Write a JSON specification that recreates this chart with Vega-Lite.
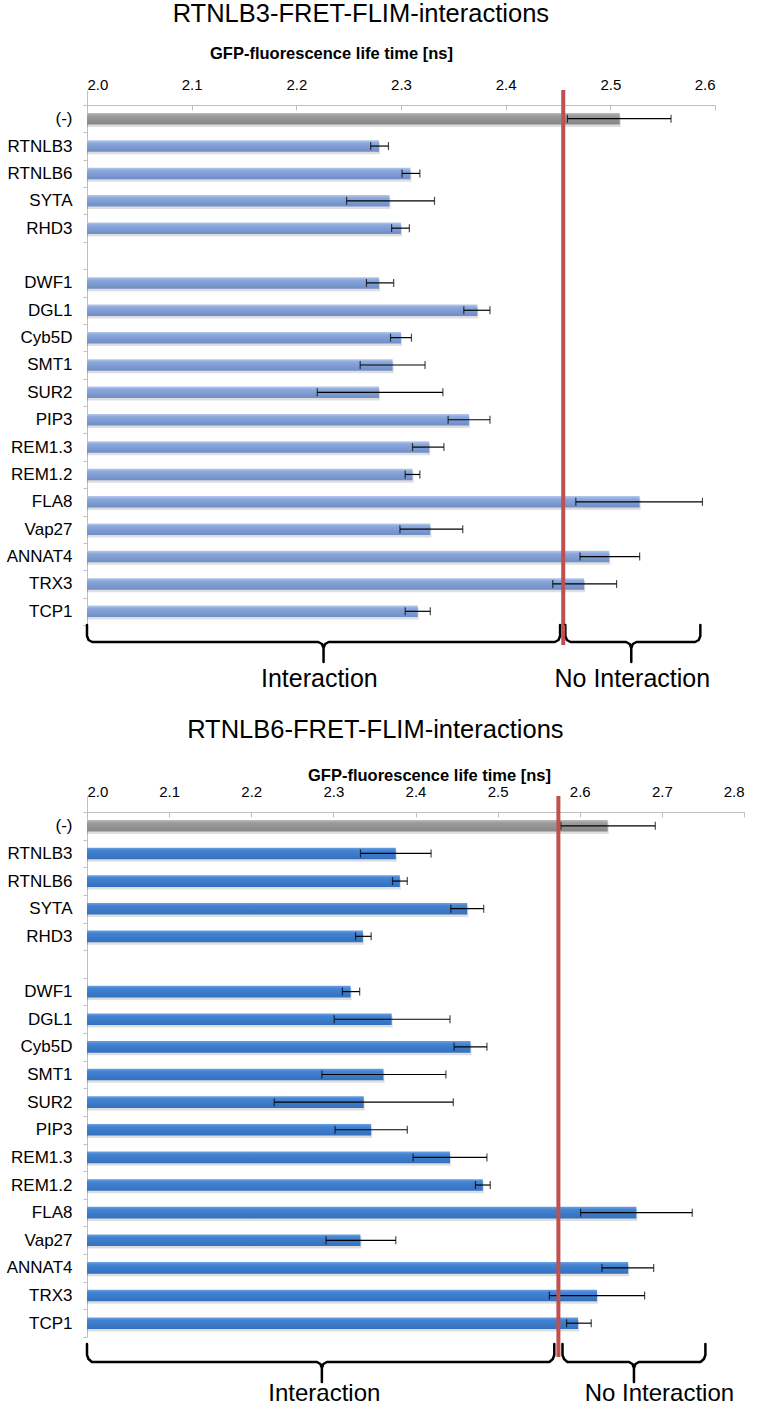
{
  "$schema": "https://vega.github.io/schema/vega-lite/v6.json",
  "padding": {"left": 6, "top": 1, "right": 0, "bottom": 0},
  "background": "white",
  "bounds": "flush",
  "spacing": 0,
  "config": {"font": "Liberation Sans", "view": {"stroke": null}},
  "datasets": {
    "p1": [
      {"cat": "(-)", "v": 2.509, "lo": 2.459, "hi": 2.558},
      {"cat": "RTNLB3", "v": 2.279, "lo": 2.271, "hi": 2.288},
      {"cat": "RTNLB6", "v": 2.309, "lo": 2.301, "hi": 2.318},
      {"cat": "SYTA", "v": 2.289, "lo": 2.248, "hi": 2.332},
      {"cat": "RHD3", "v": 2.300, "lo": 2.291, "hi": 2.308},
      {"cat": "DWF1", "v": 2.279, "lo": 2.267, "hi": 2.293},
      {"cat": "DGL1", "v": 2.373, "lo": 2.360, "hi": 2.385},
      {"cat": "Cyb5D", "v": 2.300, "lo": 2.290, "hi": 2.310},
      {"cat": "SMT1", "v": 2.292, "lo": 2.261, "hi": 2.323},
      {"cat": "SUR2", "v": 2.279, "lo": 2.220, "hi": 2.340},
      {"cat": "PIP3", "v": 2.365, "lo": 2.345, "hi": 2.385},
      {"cat": "REM1.3", "v": 2.327, "lo": 2.311, "hi": 2.341},
      {"cat": "REM1.2", "v": 2.311, "lo": 2.304, "hi": 2.318},
      {"cat": "FLA8", "v": 2.528, "lo": 2.467, "hi": 2.588},
      {"cat": "Vap27", "v": 2.328, "lo": 2.299, "hi": 2.359},
      {"cat": "ANNAT4", "v": 2.499, "lo": 2.471, "hi": 2.528},
      {"cat": "TRX3", "v": 2.475, "lo": 2.445, "hi": 2.506},
      {"cat": "TCP1", "v": 2.316, "lo": 2.304, "hi": 2.328}
    ],
    "p2": [
      {"cat": "(-)", "v": 2.634, "lo": 2.577, "hi": 2.692},
      {"cat": "RTNLB3", "v": 2.376, "lo": 2.333, "hi": 2.419},
      {"cat": "RTNLB6", "v": 2.381, "lo": 2.372, "hi": 2.390},
      {"cat": "SYTA", "v": 2.463, "lo": 2.443, "hi": 2.483},
      {"cat": "RHD3", "v": 2.336, "lo": 2.327, "hi": 2.346},
      {"cat": "DWF1", "v": 2.321, "lo": 2.311, "hi": 2.332},
      {"cat": "DGL1", "v": 2.371, "lo": 2.301, "hi": 2.442},
      {"cat": "Cyb5D", "v": 2.467, "lo": 2.447, "hi": 2.487},
      {"cat": "SMT1", "v": 2.361, "lo": 2.286, "hi": 2.437},
      {"cat": "SUR2", "v": 2.337, "lo": 2.228, "hi": 2.446},
      {"cat": "PIP3", "v": 2.346, "lo": 2.302, "hi": 2.390},
      {"cat": "REM1.3", "v": 2.442, "lo": 2.397, "hi": 2.487},
      {"cat": "REM1.2", "v": 2.482, "lo": 2.473, "hi": 2.491},
      {"cat": "FLA8", "v": 2.669, "lo": 2.601, "hi": 2.737},
      {"cat": "Vap27", "v": 2.333, "lo": 2.291, "hi": 2.376},
      {"cat": "ANNAT4", "v": 2.659, "lo": 2.627, "hi": 2.690},
      {"cat": "TRX3", "v": 2.621, "lo": 2.563, "hi": 2.679},
      {"cat": "TCP1", "v": 2.598, "lo": 2.584, "hi": 2.614}
    ],
    "b1": [
      {"g": "L", "i": 0, "x": 2.0, "y": 0}, {"g": "L", "i": 1, "x": 2.0, "y": 11}, {"g": "L", "i": 2, "x": 2.0015, "y": 15}, {"g": "L", "i": 3, "x": 2.005, "y": 17}, {"g": "L", "i": 4, "x": 2.221, "y": 17}, {"g": "L", "i": 5, "x": 2.2245, "y": 19}, {"g": "L", "i": 6, "x": 2.226, "y": 23}, {"g": "L", "i": 7, "x": 2.226, "y": 37}, {"g": "L", "i": 8, "x": 2.226, "y": 23}, {"g": "L", "i": 9, "x": 2.2275, "y": 19}, {"g": "L", "i": 10, "x": 2.231, "y": 17}, {"g": "L", "i": 11, "x": 2.447, "y": 17}, {"g": "L", "i": 12, "x": 2.4505, "y": 15}, {"g": "L", "i": 13, "x": 2.452, "y": 11}, {"g": "L", "i": 14, "x": 2.452, "y": 0},
      {"g": "R", "i": 0, "x": 2.457, "y": 0}, {"g": "R", "i": 1, "x": 2.457, "y": 11}, {"g": "R", "i": 2, "x": 2.4585, "y": 15}, {"g": "R", "i": 3, "x": 2.462, "y": 17}, {"g": "R", "i": 4, "x": 2.515, "y": 17}, {"g": "R", "i": 5, "x": 2.5185, "y": 19}, {"g": "R", "i": 6, "x": 2.52, "y": 23}, {"g": "R", "i": 7, "x": 2.52, "y": 37}, {"g": "R", "i": 8, "x": 2.52, "y": 23}, {"g": "R", "i": 9, "x": 2.5215, "y": 19}, {"g": "R", "i": 10, "x": 2.525, "y": 17}, {"g": "R", "i": 11, "x": 2.581, "y": 17}, {"g": "R", "i": 12, "x": 2.5845, "y": 15}, {"g": "R", "i": 13, "x": 2.586, "y": 11}, {"g": "R", "i": 14, "x": 2.586, "y": 0}
    ],
    "b2": [
      {"g": "L", "i": 0, "x": 2.0, "y": 7}, {"g": "L", "i": 1, "x": 2.0, "y": 18}, {"g": "L", "i": 2, "x": 2.0018, "y": 22}, {"g": "L", "i": 3, "x": 2.006, "y": 25}, {"g": "L", "i": 4, "x": 2.28, "y": 25}, {"g": "L", "i": 5, "x": 2.2842, "y": 27}, {"g": "L", "i": 6, "x": 2.286, "y": 31}, {"g": "L", "i": 7, "x": 2.286, "y": 45}, {"g": "L", "i": 8, "x": 2.286, "y": 31}, {"g": "L", "i": 9, "x": 2.2878, "y": 27}, {"g": "L", "i": 10, "x": 2.292, "y": 25}, {"g": "L", "i": 11, "x": 2.563, "y": 25}, {"g": "L", "i": 12, "x": 2.5672, "y": 22}, {"g": "L", "i": 13, "x": 2.569, "y": 18}, {"g": "L", "i": 14, "x": 2.569, "y": 7},
      {"g": "R", "i": 0, "x": 2.579, "y": 7}, {"g": "R", "i": 1, "x": 2.579, "y": 18}, {"g": "R", "i": 2, "x": 2.5808, "y": 22}, {"g": "R", "i": 3, "x": 2.585, "y": 25}, {"g": "R", "i": 4, "x": 2.66, "y": 25}, {"g": "R", "i": 5, "x": 2.6642, "y": 27}, {"g": "R", "i": 6, "x": 2.666, "y": 31}, {"g": "R", "i": 7, "x": 2.666, "y": 45}, {"g": "R", "i": 8, "x": 2.666, "y": 31}, {"g": "R", "i": 9, "x": 2.6678, "y": 27}, {"g": "R", "i": 10, "x": 2.672, "y": 25}, {"g": "R", "i": 11, "x": 2.747, "y": 25}, {"g": "R", "i": 12, "x": 2.7512, "y": 22}, {"g": "R", "i": 13, "x": 2.753, "y": 18}, {"g": "R", "i": 14, "x": 2.753, "y": 7}
    ]
  },
  "vconcat": [
    {
      "width": 628,
      "height": 535,
      "title": {"text": "RTNLB3-FRET-FLIM-interactions", "fontSize": 25.5, "fontWeight": "normal", "anchor": "middle", "frame": "bounds", "offset": 18, "color": "#000000"},
      "layer": [
        {
          "data": {"name": "p1"},
          "mark": {"type": "bar", "height": {"band": 0.42}, "color": "#000000", "opacity": 0.13, "yOffset": 2.5, "xOffset": 1},
          "encoding": {
            "y": {"field": "cat", "type": "nominal", "sort": null, "title": null,
              "scale": {"domain": ["(-)", "RTNLB3", "RTNLB6", "SYTA", "RHD3", " ", "DWF1", "DGL1", "Cyb5D", "SMT1", "SUR2", "PIP3", "REM1.3", "REM1.2", "FLA8", "Vap27", "ANNAT4", "TRX3", "TCP1"], "paddingInner": 0, "paddingOuter": 0.274, "align": 1},
              "axis": {"tickBand": "extent", "domainColor": "#bfbfbf", "tickColor": "#bfbfbf", "tickSize": 4, "labelPadding": 11, "labelFontSize": 17, "labelColor": "#000000", "labelLimit": 200}},
            "x": {"field": "v", "type": "quantitative", "scale": {"domain": [2.0, 2.6], "zero": false, "nice": false},
              "axis": {"orient": "top", "offset": -15, "values": [2.0, 2.1, 2.2, 2.3, 2.4, 2.5, 2.6], "format": ".1f", "grid": false, "tickSize": -5, "labelPadding": 18, "labelFontSize": 15, "labelColor": "#000000", "domainColor": "#bfbfbf", "tickColor": "#bfbfbf", "title": "GFP-fluorescence life time [ns]", "titleFontSize": 16.5, "titleFontWeight": "bold", "titleColor": "#000000", "titleX": 244, "titleAlign": "center", "titlePadding": 16}},
            "x2": {"datum": 2.0}
          }
        },
        {
          "data": {"name": "p1"},
          "transform": [{"filter": "datum.cat === '(-)'"}],
          "mark": {"type": "bar", "height": {"band": 0.42}, "color": {"gradient": "linear", "x1": 0, "y1": 0, "x2": 0, "y2": 1, "stops": [{"offset": 0, "color": "#bdbdbd"}, {"offset": 0.25, "color": "#9c9c9c"}, {"offset": 1, "color": "#868686"}]}},
          "encoding": {
            "y": {"field": "cat", "type": "nominal", "sort": null},
            "x": {"field": "v", "type": "quantitative"},
            "x2": {"datum": 2.0}
          }
        },
        {
          "data": {"name": "p1"},
          "transform": [{"filter": "datum.cat !== '(-)'"}],
          "mark": {"type": "bar", "height": {"band": 0.42}, "color": {"gradient": "linear", "x1": 0, "y1": 0, "x2": 0, "y2": 1, "stops": [{"offset": 0, "color": "#b6c9ea"}, {"offset": 0.25, "color": "#8aa8db"}, {"offset": 1, "color": "#6f8dc6"}]}},
          "encoding": {
            "y": {"field": "cat", "type": "nominal", "sort": null},
            "x": {"field": "v", "type": "quantitative"},
            "x2": {"datum": 2.0}
          }
        },
        {
          "data": {"name": "p1"},
          "mark": {"type": "rule", "color": "#000000", "strokeWidth": 1.2},
          "encoding": {
            "y": {"field": "cat", "type": "nominal", "sort": null},
            "x": {"field": "lo", "type": "quantitative"},
            "x2": {"field": "hi"}
          }
        },
        {
          "data": {"name": "p1"},
          "mark": {"type": "tick", "color": "#000000", "size": 8, "thickness": 1.2, "orient": "vertical"},
          "encoding": {
            "y": {"field": "cat", "type": "nominal", "sort": null},
            "x": {"field": "lo", "type": "quantitative"}
          }
        },
        {
          "data": {"name": "p1"},
          "mark": {"type": "tick", "color": "#000000", "size": 8, "thickness": 1.2, "orient": "vertical"},
          "encoding": {
            "y": {"field": "cat", "type": "nominal", "sort": null},
            "x": {"field": "hi", "type": "quantitative"}
          }
        },
        {
          "data": {"values": [{"t": 2.455}]},
          "mark": {"type": "rule", "color": "#c0504d", "strokeWidth": 4},
          "encoding": {"x": {"field": "t", "type": "quantitative"}}
        }
      ]
    },
    {
      "width": 628,
      "height": 171,
      "layer": [
        {
          "data": {"name": "b1"},
          "mark": {"type": "line", "color": "#000000", "strokeWidth": 2.5, "strokeJoin": "round", "strokeCap": "round"},
          "encoding": {
            "x": {"field": "x", "type": "quantitative", "scale": {"domain": [2.0, 2.6], "zero": false, "nice": false}, "axis": null},
            "y": {"field": "y", "type": "quantitative", "scale": {"domain": [0, 171], "reverse": true, "zero": false, "nice": false}, "axis": null},
            "detail": {"field": "g", "type": "nominal"},
            "order": {"field": "i", "type": "quantitative"}
          }
        },
        {
          "data": {"values": [{"t": 2.455, "y1": 0, "y2": 20}]},
          "mark": {"type": "rule", "color": "#c0504d", "strokeWidth": 4},
          "encoding": {
            "x": {"field": "t", "type": "quantitative"},
            "y": {"field": "y1", "type": "quantitative"},
            "y2": {"field": "y2"}
          }
        },
        {
          "data": {"values": [{"label": "Interaction", "x": 2.222, "y": 54}, {"label": "No Interaction", "x": 2.521, "y": 54}]},
          "mark": {"type": "text", "fontSize": 25, "align": "center", "baseline": "middle", "color": "#000000"},
          "encoding": {
            "x": {"field": "x", "type": "quantitative"},
            "y": {"field": "y", "type": "quantitative"},
            "text": {"field": "label"}
          }
        }
      ]
    },
    {
      "width": 657,
      "height": 541,
      "title": {"text": "RTNLB6-FRET-FLIM-interactions", "fontSize": 25.5, "fontWeight": "normal", "anchor": "middle", "frame": "bounds", "offset": 24, "color": "#000000"},
      "layer": [
        {
          "data": {"name": "p2"},
          "mark": {"type": "bar", "height": {"band": 0.42}, "color": "#000000", "opacity": 0.13, "yOffset": 2.5, "xOffset": 1},
          "encoding": {
            "y": {"field": "cat", "type": "nominal", "sort": null, "title": null,
              "scale": {"domain": ["(-)", "RTNLB3", "RTNLB6", "SYTA", "RHD3", " ", "DWF1", "DGL1", "Cyb5D", "SMT1", "SUR2", "PIP3", "REM1.3", "REM1.2", "FLA8", "Vap27", "ANNAT4", "TRX3", "TCP1"], "paddingInner": 0, "paddingOuter": 0.2895, "align": 1},
              "axis": {"tickBand": "extent", "domainColor": "#bfbfbf", "tickColor": "#bfbfbf", "tickSize": 4, "labelPadding": 11, "labelFontSize": 17, "labelColor": "#000000", "labelLimit": 200}},
            "x": {"field": "v", "type": "quantitative", "scale": {"domain": [2.0, 2.8], "zero": false, "nice": false},
              "axis": {"orient": "top", "offset": -16, "values": [2.0, 2.1, 2.2, 2.3, 2.4, 2.5, 2.6, 2.7, 2.8], "format": ".1f", "grid": false, "tickSize": -5, "labelPadding": 18, "labelFontSize": 15, "labelColor": "#000000", "domainColor": "#bfbfbf", "tickColor": "#bfbfbf", "title": "GFP-fluorescence life time [ns]", "titleFontSize": 16.5, "titleFontWeight": "bold", "titleColor": "#000000", "titleX": 342, "titleAlign": "center", "titlePadding": 1}},
            "x2": {"datum": 2.0}
          }
        },
        {
          "data": {"name": "p2"},
          "transform": [{"filter": "datum.cat === '(-)'"}],
          "mark": {"type": "bar", "height": {"band": 0.42}, "color": {"gradient": "linear", "x1": 0, "y1": 0, "x2": 0, "y2": 1, "stops": [{"offset": 0, "color": "#bdbdbd"}, {"offset": 0.25, "color": "#9c9c9c"}, {"offset": 1, "color": "#868686"}]}},
          "encoding": {
            "y": {"field": "cat", "type": "nominal", "sort": null},
            "x": {"field": "v", "type": "quantitative"},
            "x2": {"datum": 2.0}
          }
        },
        {
          "data": {"name": "p2"},
          "transform": [{"filter": "datum.cat !== '(-)'"}],
          "mark": {"type": "bar", "height": {"band": 0.42}, "color": {"gradient": "linear", "x1": 0, "y1": 0, "x2": 0, "y2": 1, "stops": [{"offset": 0, "color": "#6a9fe2"}, {"offset": 0.25, "color": "#4283d2"}, {"offset": 1, "color": "#3470be"}]}},
          "encoding": {
            "y": {"field": "cat", "type": "nominal", "sort": null},
            "x": {"field": "v", "type": "quantitative"},
            "x2": {"datum": 2.0}
          }
        },
        {
          "data": {"name": "p2"},
          "mark": {"type": "rule", "color": "#000000", "strokeWidth": 1.2},
          "encoding": {
            "y": {"field": "cat", "type": "nominal", "sort": null},
            "x": {"field": "lo", "type": "quantitative"},
            "x2": {"field": "hi"}
          }
        },
        {
          "data": {"name": "p2"},
          "mark": {"type": "tick", "color": "#000000", "size": 8, "thickness": 1.2, "orient": "vertical"},
          "encoding": {
            "y": {"field": "cat", "type": "nominal", "sort": null},
            "x": {"field": "lo", "type": "quantitative"}
          }
        },
        {
          "data": {"name": "p2"},
          "mark": {"type": "tick", "color": "#000000", "size": 8, "thickness": 1.2, "orient": "vertical"},
          "encoding": {
            "y": {"field": "cat", "type": "nominal", "sort": null},
            "x": {"field": "hi", "type": "quantitative"}
          }
        },
        {
          "data": {"values": [{"t": 2.574}]},
          "mark": {"type": "rule", "color": "#c0504d", "strokeWidth": 4},
          "encoding": {"x": {"field": "t", "type": "quantitative"}}
        }
      ]
    },
    {
      "width": 657,
      "height": 70,
      "layer": [
        {
          "data": {"name": "b2"},
          "mark": {"type": "line", "color": "#000000", "strokeWidth": 2.5, "strokeJoin": "round", "strokeCap": "round"},
          "encoding": {
            "x": {"field": "x", "type": "quantitative", "scale": {"domain": [2.0, 2.8], "zero": false, "nice": false}, "axis": null},
            "y": {"field": "y", "type": "quantitative", "scale": {"domain": [0, 70], "reverse": true, "zero": false, "nice": false}, "axis": null},
            "detail": {"field": "g", "type": "nominal"},
            "order": {"field": "i", "type": "quantitative"}
          }
        },
        {
          "data": {"values": [{"t": 2.574, "y1": 0, "y2": 20}]},
          "mark": {"type": "rule", "color": "#c0504d", "strokeWidth": 4},
          "encoding": {
            "x": {"field": "t", "type": "quantitative"},
            "y": {"field": "y1", "type": "quantitative"},
            "y2": {"field": "y2"}
          }
        },
        {
          "data": {"values": [{"label": "Interaction", "x": 2.289, "y": 57}, {"label": "No Interaction", "x": 2.697, "y": 57}]},
          "mark": {"type": "text", "fontSize": 24, "align": "center", "baseline": "middle", "color": "#000000"},
          "encoding": {
            "x": {"field": "x", "type": "quantitative"},
            "y": {"field": "y", "type": "quantitative"},
            "text": {"field": "label"}
          }
        }
      ]
    }
  ]
}
